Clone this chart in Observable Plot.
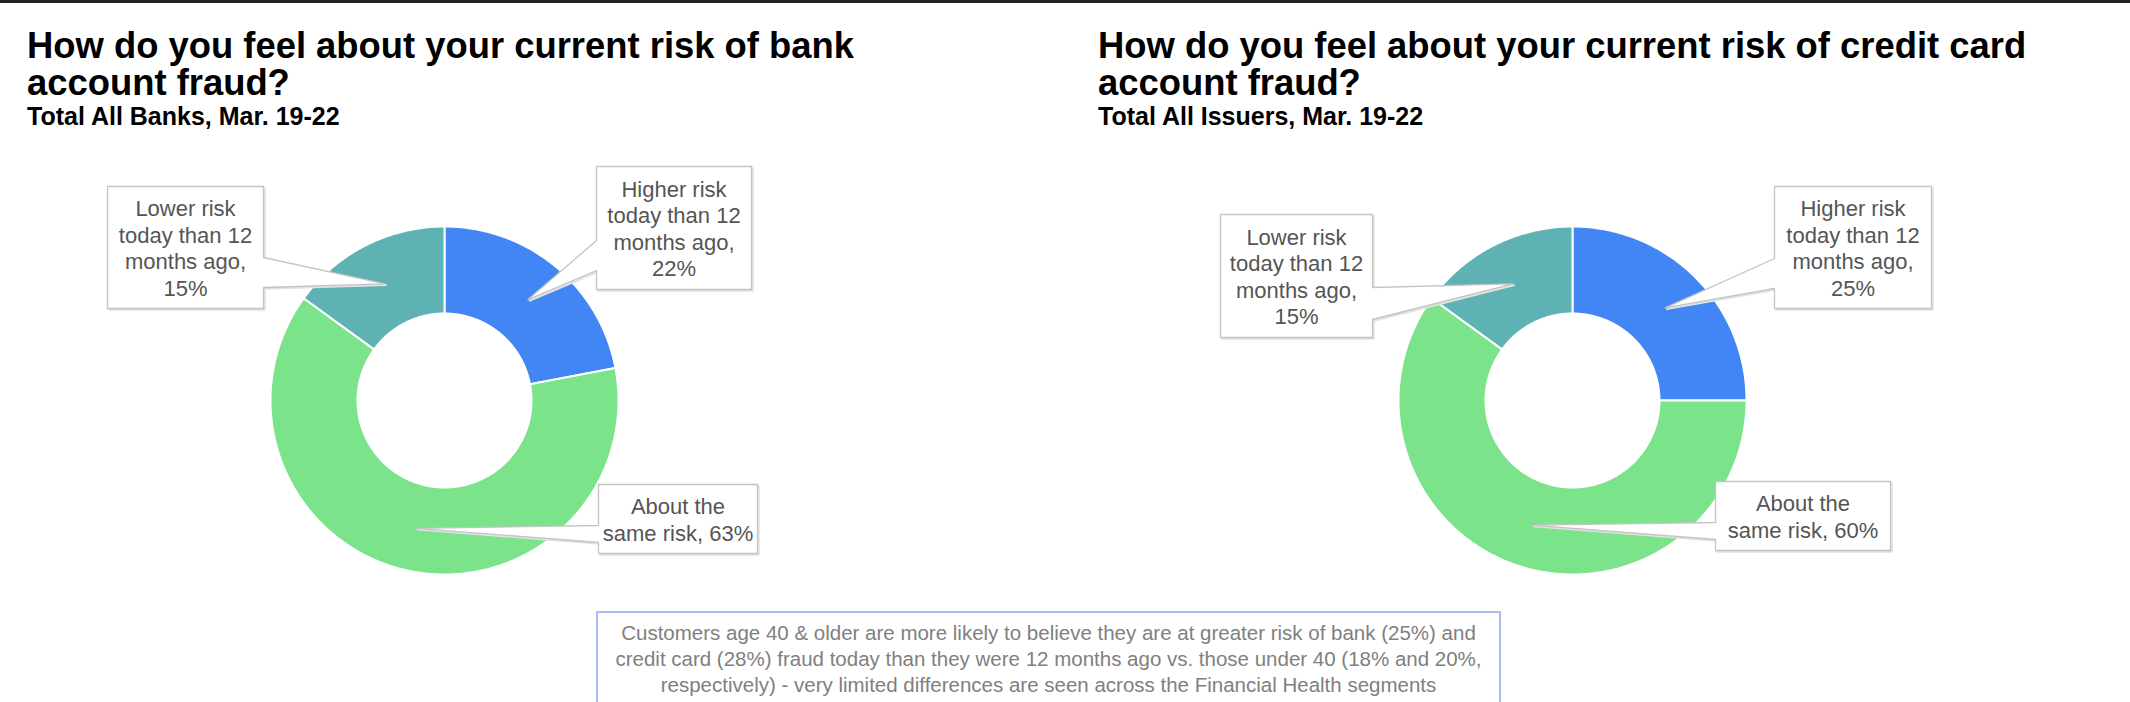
<!DOCTYPE html>
<html>
<head>
<meta charset="utf-8">
<script src="https://cdn.jsdelivr.net/npm/d3@7"></script>
<script src="https://cdn.jsdelivr.net/npm/@observablehq/plot@0.6"></script>
<style>
  html, body { margin: 0; padding: 0; background: #fff; }
  body { font-family: "Liberation Sans", Arial, sans-serif; }
  #page { position: relative; width: 2130px; height: 702px; overflow: hidden; background: #fff; }
  #topbar { position: absolute; left: 0; top: 0; width: 2130px; height: 3px; background: #222; }
  .title { position: absolute; font-weight: bold; font-size: 36.4px; line-height: 37px; color: #000; white-space: nowrap; }
  .sub { position: absolute; font-weight: bold; font-size: 25px; line-height: 28px; color: #000; white-space: nowrap; }
  .panel { position: absolute; top: 140px; }
  #note { position: absolute; left: 596px; top: 611px; width: 905px; height: 130px; box-sizing: border-box;
          border: 2px solid #a9bcf4; padding-top: 7px; text-align: center; color: #808080;
          font-size: 20.5px; line-height: 26px; white-space: nowrap; }
</style>
</head>
<body>
<div id="page">
  <div id="topbar"></div>
  <div class="title" id="t0" style="left:27px;top:27px;"></div>
  <div class="sub" id="s0" style="left:27px;top:102px;"></div>
  <div class="title" id="t1" style="left:1098px;top:27px;"></div>
  <div class="sub" id="s1" style="left:1098px;top:102px;"></div>
  <div class="panel" id="p0" style="left:0px;"></div>
  <div class="panel" id="p1" style="left:1065px;"></div>
  <div id="note"></div>
</div>
<script>
// ---------------- data ----------------
const categories = ["Higher risk today than 12 months ago", "About the same risk", "Lower risk today than 12 months ago"];
const labelPrefix = ["Higher risk\ntoday than 12\nmonths ago,", "About the\nsame risk,", "Lower risk\ntoday than 12\nmonths ago,"];
const labelJoin = ["\n", " ", "\n"];
const bankValues = [22, 63, 15];
const cardValues = [25, 60, 15];
const colors = ["#4285f4", "#7be38a", "#5fb2b4"];
const titles = ["How do you feel about your current risk of bank\naccount fraud?",
                "How do you feel about your current risk of credit card\naccount fraud?"];
const subtitles = ["Total All Banks, Mar. 19-22", "Total All Issuers, Mar. 19-22"];
const noteText = "Customers age 40 & older are more likely to believe they are at greater risk of bank (25%) and\ncredit card (28%) fraud today than they were 12 months ago vs. those under 40 (18% and 20%,\nrespectively) - very limited differences are seen across the Financial Health segments";

// ---------------- layout ----------------
const PW = 1065, PH = 460, PTOP = 140;
const R = 174, Rin = 87, Rtip = 131;
const panels = [
  { left: 0, cx: 444, cy: 400, values: bankValues,
    boxes: [
      { x0: 596, x1: 751, y0: 166, y1: 289, side: "left",  a1: 240, a2: 270 },
      { x0: 598, x1: 757, y0: 484, y1: 553, side: "left",  a1: 525, a2: 542 },
      { x0: 107, x1: 263, y0: 186, y1: 308, side: "right", a1: 257, a2: 287 }
    ] },
  { left: 1065, cx: 1572, cy: 400, values: cardValues,
    boxes: [
      { x0: 1774, x1: 1931, y0: 186, y1: 308, side: "left",  a1: 258, a2: 288 },
      { x0: 1715, x1: 1890, y0: 481, y1: 550, side: "left",  a1: 522, a2: 539 },
      { x0: 1220, x1: 1372, y0: 214, y1: 337, side: "right", a1: 287, a2: 319 }
    ] }
];

function donut(panel) {
  const pts = [];
  const total = d3.sum(panel.values);
  let acc = 0;
  const tips = [];
  panel.values.forEach((v, i) => {
    const a0 = acc / total * 2 * Math.PI;
    acc += v;
    const a1 = acc / total * 2 * Math.PI;
    const n = Math.max(8, Math.ceil((a1 - a0) / 0.01));
    const ring = [];
    for (let k = 0; k <= n; k++) {
      const a = a0 + (a1 - a0) * k / n;
      ring.push({ x: panel.cx + R * Math.sin(a), y: panel.cy - R * Math.cos(a), cat: categories[i] });
    }
    for (let k = n; k >= 0; k--) {
      const a = a0 + (a1 - a0) * k / n;
      ring.push({ x: panel.cx + Rin * Math.sin(a), y: panel.cy - Rin * Math.cos(a), cat: categories[i] });
    }
    ring.push({ ...ring[0] });
    pts.push(...ring);
    const am = (a0 + a1) / 2;
    tips.push({ x: panel.cx + Rtip * Math.sin(am), y: panel.cy - Rtip * Math.cos(am) });
  });
  return { pts, tips };
}

function callouts(panel, tips) {
  const pts = [];
  const labels = [];
  panel.boxes.forEach((b, i) => {
    const t = tips[i];
    const id = "b" + i;
    let poly;
    if (b.side === "left") {
      poly = [[b.x0, b.y0], [b.x1, b.y0], [b.x1, b.y1], [b.x0, b.y1], [b.x0, b.a2], [t.x, t.y], [b.x0, b.a1], [b.x0, b.y0]];
    } else {
      poly = [[b.x0, b.y0], [b.x1, b.y0], [b.x1, b.a1], [t.x, t.y], [b.x1, b.a2], [b.x1, b.y1], [b.x0, b.y1], [b.x0, b.y0]];
    }
    poly.forEach(([x, y]) => pts.push({ x, y, id }));
    labels.push({ x: (b.x0 + b.x1) / 2, y: (b.y0 + b.y1) / 2,
                  text: labelPrefix[i] + labelJoin[i] + panel.values[i] + "%" });
  });
  return { pts, labels };
}

panels.forEach((panel, pi) => {
  const { pts, tips } = donut(panel);
  const { pts: boxPts, labels } = callouts(panel, tips);
  const chart = Plot.plot({
    width: PW, height: PH,
    marginTop: 0, marginRight: 0, marginBottom: 0, marginLeft: 0,
    x: { domain: [panel.left, panel.left + PW], range: [0, PW], axis: null },
    y: { domain: [PTOP, PTOP + PH], range: [0, PH], axis: null },
    color: { domain: categories, range: colors },
    style: { background: "transparent", fontFamily: "'Liberation Sans', Arial, sans-serif" },
    marks: [
      Plot.line(pts, { x: "x", y: "y", z: "cat", fill: "cat", stroke: "white", strokeWidth: 2, curve: "linear" }),
      Plot.line(boxPts, { x: "x", y: "y", z: "id", fill: "#e2e2e2", stroke: "#e2e2e2", strokeWidth: 1.5, dx: 1.5, dy: 1.5, curve: "linear" }),
      Plot.line(boxPts, { x: "x", y: "y", z: "id", fill: "white", stroke: "#c4c4c4", strokeWidth: 1.3, curve: "linear" }),
      Plot.text(labels, { x: "x", y: "y", text: "text", fontSize: 22, lineHeight: 1.2, fill: "#555", textAnchor: "middle", lineAnchor: "middle" })
    ]
  });
  document.getElementById("p" + pi).appendChild(chart);
  document.getElementById("t" + pi).innerText = titles[pi];
  document.getElementById("s" + pi).innerText = subtitles[pi];
});
document.getElementById("note").innerText = noteText;
</script>
</body>
</html>
